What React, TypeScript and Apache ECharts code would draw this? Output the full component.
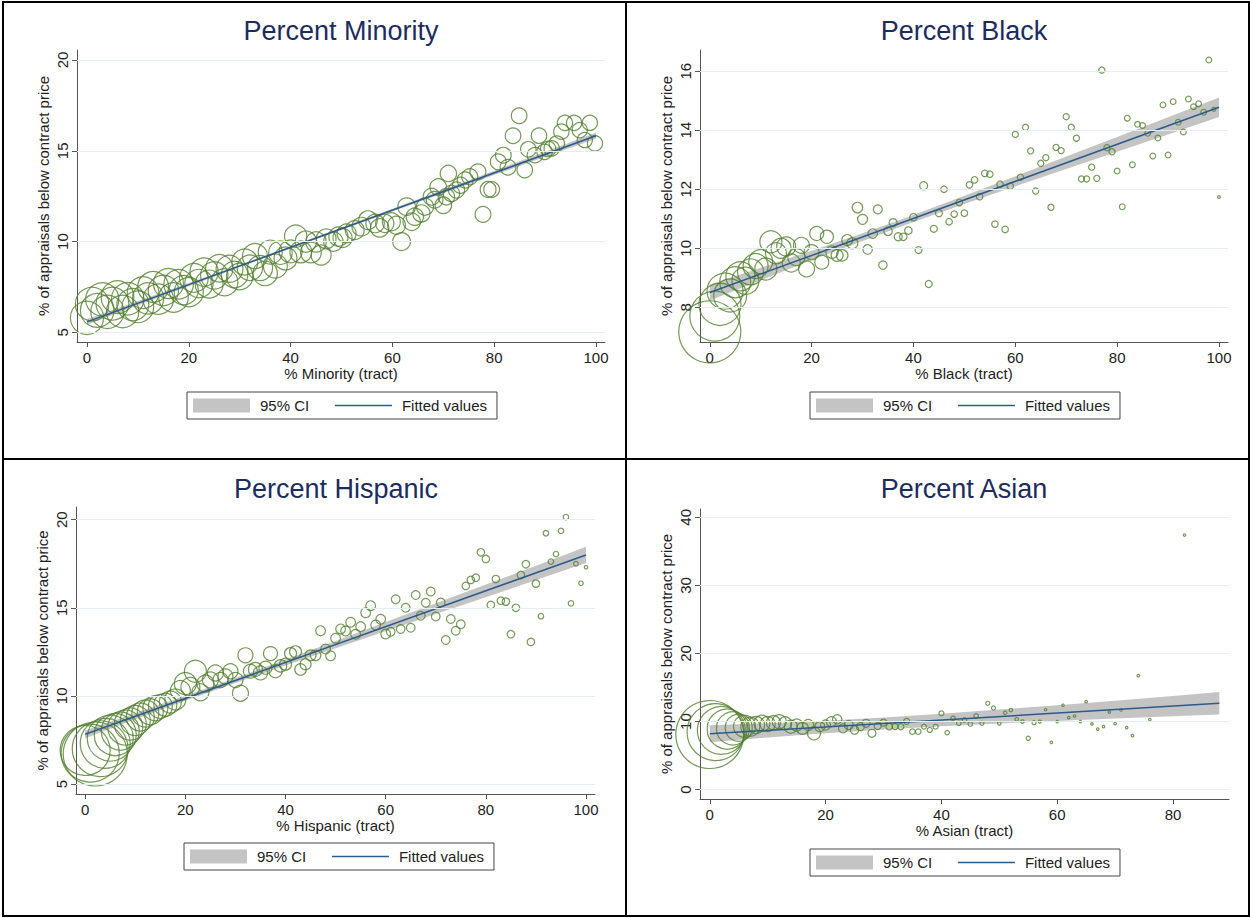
import React, { useEffect, useRef } from "react";
import * as echarts from "echarts";

// ---------- Panel 1: Percent Minority ----------
const minorityX = [
  0, 1, 2, 3, 4, 5, 6, 7, 8, 9, 10, 11, 12, 13, 14, 15, 16, 17, 18, 19, 20, 21, 22, 23, 24, 25, 26, 27, 28, 29,
  30, 31, 32, 33, 34, 35, 36, 37, 38, 39, 40, 41, 42, 43, 44, 45, 46, 47,
  48.4, 49.4, 50.2, 51.0, 52.6, 53.9, 55.2, 56.6, 57.5, 58.5, 59.8, 60.8, 61.8, 62.8, 63.8, 64.4, 65.7, 66.4,
  67.7, 68.3, 69.0, 70.0, 70.6, 71.0, 71.6, 72.6, 73.4, 74.3, 75.2, 76.8, 77.8, 78.8, 79.5, 80.8, 81.8, 82.7,
  83.7, 84.9, 86.0, 86.7, 88.0, 88.8, 89.9, 90.6, 91.3, 92.3, 93.2, 93.9, 95.7, 96.8, 97.8, 98.8, 99.8,
];
const minorityY = [
  5.8, 6.56, 6.21, 6.82, 6.13, 6.58, 6.94, 6.15, 6.85, 6.53,
  6.41, 7.19, 6.87, 7.5, 6.83, 7.31, 7.69, 6.92, 7.65, 7.33,
  7.22, 8.0, 7.69, 8.32, 7.66, 8.14, 8.53, 7.76, 8.5, 8.19,
  8.08, 8.87, 8.56, 9.2, 8.54, 8.25, 9.42, 8.65, 9.39, 9.07,
  9.46, 10.3, 9.43, 10.0, 9.4, 9.98, 9.26, 10.15,
  10.0, 10.27, 10.2, 10.45, 10.63, 10.82, 11.18, 11.0, 10.75, 11.0, 11.09, 10.9, 10.0, 11.92, 11.09, 11.37,
  11.55, 11.92, 12.47, 12.3, 13.0, 12.0, 12.47, 13.75, 12.65, 12.84, 13.1, 13.39, 13.57, 13.84, 11.5, 12.87,
  12.87, 14.39, 14.76, 14.09, 15.83, 16.93, 13.94, 15.08, 14.76, 15.83, 14.94, 15.1, 15.13, 15.4, 16.05,
  16.54, 16.54, 16.14, 15.59, 16.54, 15.41,
];
const minorityN = [
  4400, 4500, 4500, 4400, 4400, 4300, 4300, 4200, 4200, 4100, 4000, 4000, 3900, 3800, 3700, 3700, 3600, 3500,
  3500, 3400, 3400, 3300, 3200, 3200, 3100, 3000, 3000, 2900, 2900, 2800, 2800, 2700, 2600, 2500, 2500, 2400,
  2300, 2300, 2200, 2100, 2100, 2000, 1900, 1800, 1700, 1650, 1600, 1550,
  1500, 1480, 1460, 1440, 1420, 1400, 1380, 1360, 1340, 1320, 1300, 1280, 1260, 1240, 1220, 1200, 1180, 1160,
  1140, 1120, 1100, 1090, 1080, 1070, 1060, 1050, 1040, 1030, 1020, 1010, 1000, 1000, 990, 990, 980, 980,
  970, 970, 960, 960, 960, 950, 950, 950, 940, 940, 940, 930, 930, 930, 920, 920, 920,
];
const minorityCiX = [0, 10, 20, 30, 40, 50, 60, 70, 80, 90, 100];
const minorityCiLo = [5.42, 6.49, 7.54, 8.59, 9.62, 10.64, 11.65, 12.66, 13.66, 14.67, 15.66];
const minorityCiHi = [5.74, 6.73, 7.72, 8.73, 9.74, 10.78, 11.81, 12.86, 13.9, 14.95, 16.0];
const minorityFitX = [0, 100];
const minorityFitY = [5.58, 15.83];

// ---------- Panel 2: Percent Black ----------
const blackX = [
  0, 1, 2, 3, 4, 5, 6, 7, 8, 9, 10, 11, 12, 13, 14, 15, 16, 17, 18, 19, 20, 21, 22, 23, 24, 25, 26, 27, 28, 29,
  30, 31, 32, 33, 34, 35, 36, 37, 38, 39, 40, 41, 42, 43, 44, 45, 46, 47, 48, 49, 50, 51, 52, 53, 54, 55, 56,
  57, 58, 59, 60, 61, 62, 63, 64, 65, 66, 67, 68, 69, 70, 71, 72, 73, 74, 75, 76, 77, 78, 79, 80, 81, 82, 83,
  84, 85, 86, 87, 88, 89, 90, 91, 92, 93, 94, 95, 96, 97, 98, 99, 100,
];
const blackY = [
  7.17, 7.7, 8.1, 8.55, 8.4, 8.85, 9.05, 8.9, 9.2, 9.4,
  9.55, 9.3, 10.22, 9.83, 10.0, 10.06, 9.5, 9.7, 10.1, 9.3,
  9.87, 10.5, 9.53, 10.39, 9.87, 9.76, 9.76, 10.28, 10.17, 11.38,
  10.98, 9.96, 10.5, 11.32, 9.43, 10.58, 10.87, 10.39, 10.39, 10.6,
  11.05, 9.94, 12.12, 8.79, 10.66, 11.19, 12.0, 10.9, 11.16, 11.55,
  11.19, 12.15, 12.32, 11.75, 12.54, 12.51, 10.82, 12.17, 10.64, 12.11,
  13.86, 12.41, 14.1, 13.3, 11.94, 12.88, 13.07, 11.39, 13.42, 13.31,
  14.46, 14.1, 13.73, 12.35, 12.35, 12.75, 12.37, 16.04, 13.41, 13.27,
  12.62, 11.41, 14.41, 12.83, 14.2, 14.16, 13.9, 13.13, 13.74, 14.86,
  13.16, 14.97, 14.27, 13.94, 15.06, 14.8, 14.9, 14.61, 16.38, 14.71,
  11.74,
];
const blackN = [
  15400, 10000, 7060, 5180, 4360, 3840, 3360, 2920, 2700, 2500,
  2300, 1940, 1940, 1760, 1600, 1440, 1300, 1160, 1020, 1020,
  900, 780, 780, 680, 620, 580, 530, 480, 480, 440,
  400, 360, 360, 320, 290, 290, 260, 260, 225, 225,
  225, 196, 256, 196, 196, 196, 170, 170, 170, 170,
  170, 170, 170, 170, 170, 170, 170, 170, 170, 170,
  150, 150, 150, 150, 150, 150, 150, 150, 150, 150,
  150, 150, 150, 150, 150, 150, 150, 150, 150, 150,
  130, 130, 130, 130, 130, 130, 130, 130, 130, 130,
  130, 130, 130, 130, 130, 130, 130, 130, 130, 64,
  30,
];
const blackCiX = [0, 10, 20, 30, 40, 50, 60, 70, 80, 90, 100];
const blackCiLo = [8.23, 8.92, 9.6, 10.25, 10.89, 11.5, 12.1, 12.69, 13.27, 13.86, 14.45];
const blackCiHi = [8.77, 9.34, 9.92, 10.51, 11.13, 11.78, 12.44, 13.11, 13.77, 14.44, 15.11];
const blackFitX = [0, 100];
const blackFitY = [8.5, 14.78];

// ---------- Panel 3: Percent Hispanic ----------
const hispanicX = [
  0, 1, 2, 3, 4, 5, 6, 7, 8, 9, 10, 11, 12, 13, 14, 15, 16, 17, 18, 19, 20, 21, 22, 23, 24, 25, 26, 27, 28, 29,
  30, 31, 32, 33, 34, 35, 36, 37, 38, 39, 40, 41, 42, 43, 44, 45, 46, 47, 48, 49, 50, 51, 52, 53, 54, 55, 56,
  57, 58, 59, 60, 61, 62, 63, 64, 65, 66, 67, 68, 69, 70, 71, 72, 73, 74, 75, 76, 77, 78, 79, 80, 81, 82, 83,
  84, 85, 86, 87, 88, 89, 90, 91, 92, 93, 94, 95, 96, 97, 98, 99, 100,
];
const hispanicY = [
  6.9, 6.75, 6.7, 7.0, 7.3, 7.6, 7.8, 8.0, 8.2, 8.4,
  8.6, 8.8, 9.0, 9.1, 9.3, 9.4, 9.5, 9.65, 9.8, 10.3,
  10.7, 10.5, 11.4, 10.2, 10.7, 10.9, 11.3, 10.9, 11.1, 11.4,
  10.9, 10.15, 12.3, 11.4, 11.5, 11.3, 11.6, 12.4, 11.4, 11.7,
  11.8, 12.4, 12.5, 11.5, 11.8, 12.3, 12.3, 13.7, 12.66, 12.28,
  13.27, 13.8, 13.68, 14.18, 13.5, 13.93, 14.72, 15.12, 14.02, 14.35,
  13.51, 13.64, 15.48, 13.8, 15.0, 13.87, 15.73, 14.55, 15.29, 15.92,
  14.5, 15.3, 13.17, 14.36, 13.7, 14.06, 16.24, 16.58, 16.71, 18.15,
  17.77, 15.16, 16.63, 15.4, 15.35, 13.5, 15.0, 16.86, 17.47, 13.06,
  16.37, 14.52, 19.23, 17.62, 18.05, 19.36, 20.15, 15.25, 17.5, 16.39,
  17.3,
];
const hispanicN = [
  10000, 13500, 16400, 12500, 10000, 8460, 7060, 5780, 4900, 4100,
  3600, 3140, 2920, 2700, 2500, 2300, 2120, 1940, 1760, 1600,
  1940, 1440, 1940, 1160, 1160, 1020, 1020, 900, 900, 900,
  900, 1020, 900, 780, 780, 780, 680, 780, 680, 620,
  580, 580, 580, 530, 480, 480, 440, 380, 380, 380,
  380, 380, 380, 380, 380, 380, 380, 380, 380, 380,
  380, 300, 300, 300, 300, 300, 300, 300, 300, 300,
  300, 300, 300, 300, 300, 300, 225, 225, 225, 225,
  225, 225, 225, 225, 225, 225, 225, 225, 225, 225,
  225, 121, 121, 121, 121, 121, 121, 121, 88, 81,
  44,
];
const hispanicCiX = [0, 10, 20, 30, 40, 50, 60, 70, 80, 90, 100];
const hispanicCiLo = [7.6, 8.67, 9.72, 10.73, 11.72, 12.7, 13.67, 14.64, 15.6, 16.57, 17.54];
const hispanicCiHi = [8.04, 9.01, 10.0, 11.01, 12.06, 13.12, 14.19, 15.26, 16.32, 17.39, 18.46];
const hispanicFitX = [0, 100];
const hispanicFitY = [7.82, 18.0];

// ---------- Panel 4: Percent Asian ----------
const asianX = [
  0, 1, 2, 3, 4, 5, 6, 7, 8, 9, 10, 11, 12, 13, 14, 15, 16, 17, 18, 19, 20, 21, 22, 23, 24, 25, 26, 27, 28, 29,
  30, 31, 32, 33, 34, 35, 36, 37, 38, 39, 40, 41, 42, 43, 44, 45, 46, 47, 48, 49, 50, 51, 52, 53, 54, 55, 56,
  57, 58, 59, 60, 61, 62, 63, 64, 65, 66, 67, 68, 69, 70, 71, 72, 73, 74, 76, 82,
];
const asianY = [
  8.1, 8.45, 8.7, 8.9, 9.0, 9.1, 9.3, 9.25, 9.5, 9.75,
  9.65, 9.84, 9.99, 9.75, 9.25, 9.5, 9.0, 9.5, 8.28, 9.25,
  9.5, 9.99, 10.34, 9.0, 9.5, 8.77, 9.25, 9.75, 8.28, 9.35,
  9.84, 9.25, 9.25, 9.25, 10.04, 8.52, 8.52, 9.25, 8.77, 9.25,
  11.21, 8.38, 10.48, 9.75, 10.24, 9.65, 10.82, 9.74, 12.69, 12.0,
  9.74, 11.3, 11.7, 10.34, 10.0, 7.54, 9.84, 10.0, 11.74, 6.96,
  10.0, 12.4, 10.58, 10.82, 10.0, 12.92, 9.65, 8.9, 9.25, 11.4,
  9.7, 11.7, 9.1, 7.93, 16.74, 10.29, 37.4,
];
const asianN = [
  18500, 13000, 9200, 6400, 4360, 2920, 1940, 1440, 1160, 1020,
  900, 780, 780, 680, 680, 580, 580, 480, 680, 400,
  400, 400, 350, 324, 324, 290, 256, 256, 256, 196,
  196, 170, 144, 144, 144, 121, 121, 100, 100, 100,
  100, 81, 81, 81, 81, 81, 81, 64, 64, 64,
  49, 49, 49, 49, 49, 70, 64, 36, 25, 25,
  25, 25, 25, 25, 25, 25, 25, 25, 25, 25,
  25, 25, 25, 25, 25, 25, 25,
];
const asianCiX = [0, 10, 20, 30, 40, 50, 60, 70, 80, 88];
const asianCiLo = [6.95, 7.66, 8.3, 8.85, 9.32, 9.73, 10.1, 10.46, 10.79, 11.03];
const asianCiHi = [9.45, 9.76, 10.14, 10.61, 11.16, 11.77, 12.4, 13.06, 13.75, 14.33];
const asianFitX = [0, 88];
const asianFitY = [8.2, 12.68];

// ---------- Texts and ticks ----------
const titles = ["Percent Minority", "Percent Black", "Percent Hispanic", "Percent Asian"];
const xNames = ["% Minority (tract)", "% Black (tract)", "% Hispanic (tract)", "% Asian (tract)"];
const yName = "% of appraisals below contract price";
const xTicks = [
  [0, 20, 40, 60, 80, 100],
  [0, 20, 40, 60, 80, 100],
  [0, 20, 40, 60, 80, 100],
  [0, 20, 40, 60, 80],
];
const yTicks = [
  [5, 10, 15, 20],
  [8, 10, 12, 14, 16],
  [5, 10, 15, 20],
  [0, 10, 20, 30, 40],
];
const legendNames = ["95% CI", "Fitted values"];

// ---------- Layout (not data) ----------
const FONT = "'Liberation Sans', Arial, Helvetica, sans-serif";
const GREEN = "#527f2e";
const BLUE = "#2d5b8a";
const NAVY = "#1d2c5e";
const BAND = "#c4c4c4";
const AXIS = "#555555";
const TEXT = "#222222";

const panels = [
  {
    xs: minorityX, ys: minorityY, ns: minorityN,
    ciX: minorityCiX, ciLo: minorityCiLo, ciHi: minorityCiHi, fitX: minorityFitX, fitY: minorityFitY,
    grid: { left: 77, top: 50, width: 528, height: 292 },
    xr: [-1.965, 101.77], yr: [4.47, 20.55],
    legend: { left: 187, top: 392 }, title: [341, 31],
  },
  {
    xs: blackX, ys: blackY, ns: blackN,
    ciX: blackCiX, ciLo: blackCiLo, ciHi: blackCiHi, fitX: blackFitX, fitY: blackFitY,
    grid: { left: 700, top: 50, width: 528, height: 292 },
    xr: [-1.92, 101.77], yr: [6.824, 16.72],
    legend: { left: 810, top: 392 }, title: [964, 31],
  },
  {
    xs: hispanicX, ys: hispanicY, ns: hispanicN,
    ciX: hispanicCiX, ciLo: hispanicCiLo, ciHi: hispanicCiHi, fitX: hispanicFitX, fitY: hispanicFitY,
    grid: { left: 76, top: 507, width: 519, height: 287 },
    xr: [-1.84, 101.8], yr: [4.43, 20.72],
    legend: { left: 184, top: 843 }, title: [336, 489],
  },
  {
    xs: asianX, ys: asianY, ns: asianN,
    ciX: asianCiX, ciLo: asianCiLo, ciHi: asianCiHi, fitX: asianFitX, fitY: asianFitY,
    grid: { left: 700, top: 509, width: 529, height: 290 },
    xr: [-1.69, 89.67], yr: [-1.37, 41.22],
    legend: { left: 810, top: 849 }, title: [964, 489],
  },
];

function buildOption() {
  const series: any[] = [];
  panels.forEach((p, i) => {
    series.push({
      type: "line",
      xAxisIndex: i,
      yAxisIndex: i,
      data: [],
      silent: true,
      z: 0,
      markLine: {
        silent: true,
        symbol: "none",
        label: { show: false },
        lineStyle: { color: "#e4edef", width: 1, type: "solid" },
        data: yTicks[i].map((v) => ({ yAxis: v })),
      },
    });
    series.push({
      type: "custom",
      name: legendNames[0],
      xAxisIndex: i,
      yAxisIndex: i,
      z: 1,
      silent: true,
      itemStyle: { color: BAND },
      data: [[p.ciX[0], p.ciLo[0]]],
      renderItem: (_params: any, api: any) => {
        const pts: number[][] = [];
        for (let k = 0; k < p.ciX.length; k++) pts.push(api.coord([p.ciX[k], p.ciHi[k]]));
        for (let k = p.ciX.length - 1; k >= 0; k--) pts.push(api.coord([p.ciX[k], p.ciLo[k]]));
        return { type: "polygon", shape: { points: pts }, style: { fill: BAND } };
      },
    });
    series.push({
      type: "scatter",
      xAxisIndex: i,
      yAxisIndex: i,
      z: 2,
      silent: true,
      clip: false,
      symbol: "circle",
      symbolSize: (v: number[]) => Math.sqrt(v[2]) / 2,
      itemStyle: { color: "rgba(0,0,0,0)", borderColor: GREEN, borderWidth: 1.2 },
      data: p.xs.map((x, j) => [x, p.ys[j], p.ns[j]]),
    });
    series.push({
      type: "line",
      name: legendNames[1],
      xAxisIndex: i,
      yAxisIndex: i,
      z: 3,
      silent: true,
      symbol: "none",
      lineStyle: { color: BLUE, width: 1.5 },
      itemStyle: { color: BLUE },
      data: p.fitX.map((x, j) => [x, p.fitY[j]]),
    });
  });

  return {
    animation: false,
    backgroundColor: "#ffffff",
    textStyle: { fontFamily: FONT },
    grid: panels.map((p) => ({ ...p.grid, containLabel: false })),
    xAxis: panels.map((p, i) => ({
      type: "value",
      gridIndex: i,
      min: p.xr[0],
      max: p.xr[1],
      name: xNames[i],
      nameLocation: "middle",
      nameGap: 24,
      nameTextStyle: { fontSize: 15, color: TEXT, fontFamily: FONT },
      axisLine: { onZero: false, lineStyle: { color: AXIS, width: 1 } },
      axisTick: { customValues: xTicks[i], length: 5, lineStyle: { color: AXIS } },
      axisLabel: { customValues: xTicks[i], fontSize: 15, color: TEXT, margin: 8, fontFamily: FONT },
      splitLine: { show: false },
    })),
    yAxis: panels.map((p, i) => ({
      type: "value",
      gridIndex: i,
      min: p.yr[0],
      max: p.yr[1],
      name: yName,
      nameLocation: "middle",
      nameGap: 26,
      nameTextStyle: { fontSize: 15, color: TEXT, fontFamily: FONT },
      axisLine: { show: true, onZero: false, lineStyle: { color: AXIS, width: 1 } },
      axisTick: { show: true, customValues: yTicks[i], length: 5, lineStyle: { color: AXIS } },
      axisLabel: { customValues: yTicks[i], rotate: 90, fontSize: 15, color: TEXT, margin: 7, fontFamily: FONT },
      splitLine: { show: false },
    })),
    legend: panels.map((p) => ({
      left: p.legend.left,
      top: p.legend.top,
      orient: "horizontal",
      selectedMode: false,
      data: [
        { name: legendNames[0], icon: "rect", itemStyle: { color: BAND } },
        { name: legendNames[1], itemStyle: { opacity: 0 }, lineStyle: { color: BLUE, width: 1.5, opacity: 1 } },
      ],
      itemWidth: 57,
      itemHeight: 14,
      itemGap: 25,
      padding: [6, 10, 6, 6],
      borderColor: "#444444",
      borderWidth: 1,
      textStyle: { fontSize: 15, color: TEXT, fontFamily: FONT, padding: [0, 0, 0, 5] },
    })),
    graphic: [
      { type: "rect", silent: true, shape: { x: 3, y: 2, width: 1246, height: 914 }, style: { fill: "none", stroke: "#000", lineWidth: 2 } },
      { type: "line", silent: true, shape: { x1: 626, y1: 2, x2: 626, y2: 916 }, style: { stroke: "#000", lineWidth: 2 } },
      { type: "line", silent: true, shape: { x1: 3, y1: 459, x2: 1249, y2: 459 }, style: { stroke: "#000", lineWidth: 2 } },
      ...panels.map((p, i) => ({
        type: "text",
        silent: true,
        x: p.title[0],
        y: p.title[1],
        style: {
          text: titles[i],
          fontSize: 27,
          fontFamily: FONT,
          fill: NAVY,
          align: "center",
          verticalAlign: "middle",
        },
      })),
    ],
    series,
  };
}

export default function App() {
  const ref = useRef<HTMLDivElement>(null);
  useEffect(() => {
    if (!ref.current) return;
    const chart = echarts.init(ref.current, null, { renderer: "svg" });
    chart.setOption(buildOption() as any);
    return () => chart.dispose();
  }, []);
  return (
    <div
      ref={ref}
      style={{ position: "absolute", left: 0, top: 0, width: 1250, height: 918, background: "#fff" }}
    />
  );
}
